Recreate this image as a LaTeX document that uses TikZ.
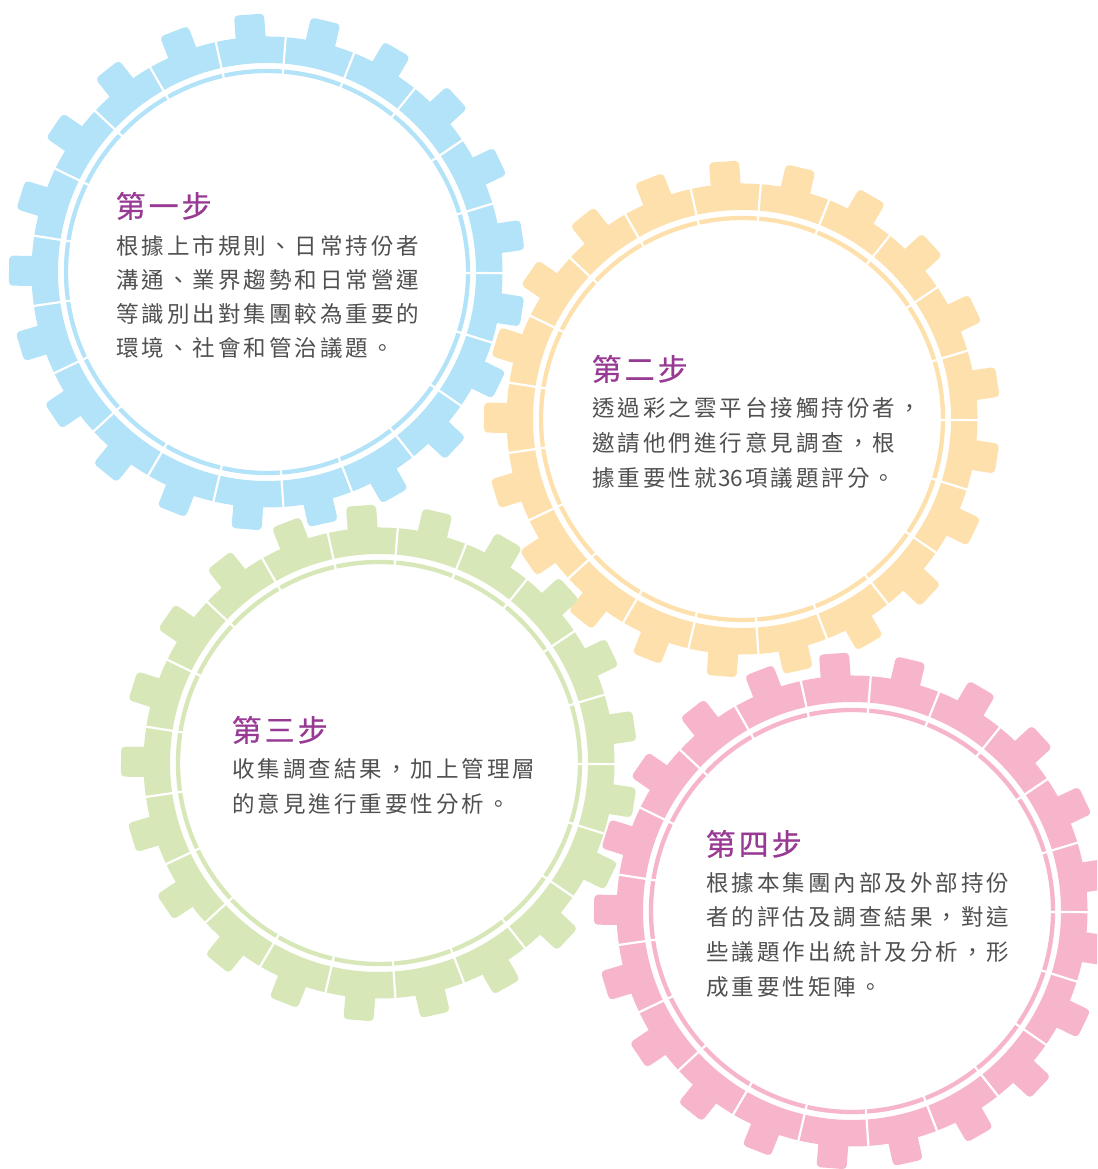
\documentclass[tikz,border=0pt]{standalone}
\usepackage{fontspec}
\newfontfamily\cjk{Noto Sans CJK TC}
\newfontfamily\cjktitle[FakeBold=0.6]{Noto Sans CJK TC}
\definecolor{gblue}{HTML}{B3E3F8}
\definecolor{gorange}{HTML}{FEE0AC}
\definecolor{ggreen}{HTML}{D7E7B7}
\definecolor{gpink}{HTML}{F7B5CB}
\definecolor{titlepurple}{HTML}{983A94}
\definecolor{textgray}{HTML}{505050}
\makeatletter
\def\cjkpitch{25.5pt}
\def\spreadline#1{\spread@loop#1\spread@end}
\def\spread@loop#1#2\spread@end{%
  \makebox[\cjkpitch][c]{#1}%
  \if\relax\detokenize{#2}\relax\else\spread@loop#2\spread@end\fi}
\makeatother
\newcommand\drawgear[3]{%
  \begin{scope}[shift={(#1,#2)}]
    \fill[#3,even odd rule] (0,0) circle[radius=235.5] (0,0) circle[radius=209];
    \foreach \k in {0,...,20}{
      \fill[#3,rounded corners=4pt,rotate=94+\k*17.142857] (226,-15) rectangle (258,15);
    }
    \draw[#3,line width=4.3pt] (0,0) circle[radius=201];
    \foreach \k in {0,...,20}{
      \draw[white,line width=2.2pt] (102.571429+\k*17.142857:196) -- (102.571429+\k*17.142857:236);
    }
  \end{scope}}
\begin{document}
\begin{tikzpicture}[x=1pt,y=1pt,
  steptitle/.style={font=\cjktitle\fontsize{30}{36}\selectfont\def\cjkpitch{33pt}, text=titlepurple, inner sep=0pt, anchor=base west},
  steptext/.style={font=\cjk\fontsize{22.5}{27}\selectfont, text=textgray, inner sep=0pt, anchor=base west}]
\useasboundingbox (0,0) rectangle (1097,1169);
\clip (0,0) rectangle (1097,1169);
\fill[white] (0,0) rectangle (1097,1169);
\drawgear{267}{897}{gblue}
\drawgear{742}{750}{gorange}
\drawgear{379}{406}{ggreen}
\drawgear{852}{258}{gpink}
% step 1
\node[steptitle] (t1) at (114,951.6) {\spreadline{第一步}};
\node[steptext] (a1) at (114.5,914.4) {\spreadline{根據上市規則、日常持份者}};
\node[steptext] (a2) at (114.5,880.4) {\spreadline{溝通、業界趨勢和日常營運}};
\node[steptext] (a3) at (114.5,846.4) {\spreadline{等識別出對集團較為重要的}};
\node[steptext] (a4) at (114.5,812.4) {\spreadline{環境、社會和管治議題。}};
% step 2
\node[steptitle] (t2) at (590,788.6) {\spreadline{第二步}};
\node[steptext] (b1) at (590.5,752.4) {\spreadline{透過彩之雲平台接觸持份者，}};
\node[steptext] (b2) at (590.5,717.4) {\spreadline{邀請他們進行意見調查，根}};
\node[steptext] (b3) at (590.5,682.4) {\spreadline{據重要性就{36}項議題評分。}};
% step 3
\node[steptitle] (t3) at (230,427.6) {\spreadline{第三步}};
\node[steptext] (c1) at (230.5,391.4) {\spreadline{收集調查結果，加上管理層}};
\node[steptext] (c2) at (230.5,356.4) {\spreadline{的意見進行重要性分析。}};
% step 4
\node[steptitle] (t4) at (704,313.6) {\spreadline{第四步}};
\node[steptext] (d1) at (704.5,277.4) {\spreadline{根據本集團內部及外部持份}};
\node[steptext] (d2) at (704.5,243.4) {\spreadline{者的評估及調查結果，對這}};
\node[steptext] (d3) at (704.5,208.4) {\spreadline{些議題作出統計及分析，形}};
\node[steptext] (d4) at (704.5,173.4) {\spreadline{成重要性矩陣。}};
\end{tikzpicture}
\end{document}
